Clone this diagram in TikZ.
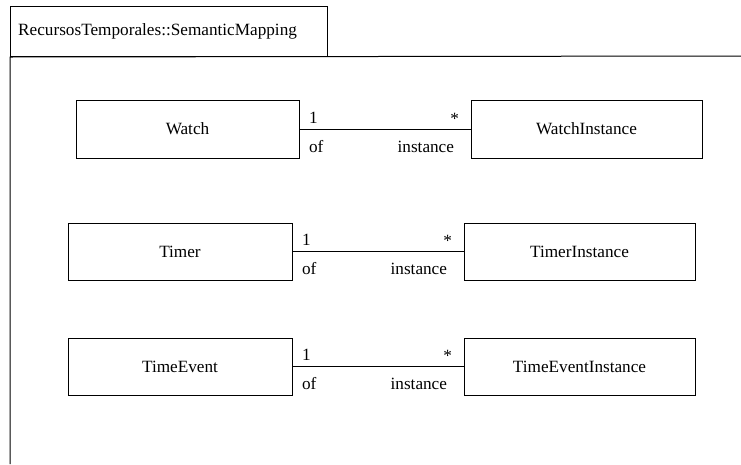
\documentclass[tikz,border=0pt]{standalone}
\usepackage{fontspec}
\setmainfont{Liberation Serif}
\begin{document}
\begin{tikzpicture}[x=1pt,y=-1pt,
  cls/.style={draw,line width=1pt,rectangle,inner sep=0pt,font=\fontsize{17.2}{20}\selectfont},
  assoc/.style={line width=1pt},
  lbl/.style={font=\fontsize{17.2}{20}\selectfont,inner sep=0pt}]
\useasboundingbox (0,0) rectangle (741,464);
\node[draw,line width=1pt,minimum width=317pt,minimum height=50pt,anchor=north west,inner sep=0pt] (tab) at (10,6) {};
\node[lbl,anchor=west] (title) at (18,31) {RecursosTemporales::SemanticMapping};
\coordinate (fr) at (741,56);
\coordinate (fb) at (10,464);
\draw[line width=1pt] (fr) -- (tab.south west) -- (fb);

\node[cls,minimum width=223pt,minimum height=58pt] (watch) at (187.5,129) {Watch};
\node[cls,minimum width=231pt,minimum height=58pt] (watchi) at (586.5,129) {WatchInstance};
\node[cls,minimum width=224pt,minimum height=57pt] (timer) at (180,251.5) {Timer};
\node[cls,minimum width=231pt,minimum height=57pt] (timeri) at (579.5,251.5) {TimerInstance};
\node[cls,minimum width=224pt,minimum height=57pt] (tev) at (180,366.5) {TimeEvent};
\node[cls,minimum width=231pt,minimum height=57pt] (tevi) at (579.5,366.5) {TimeEventInstance};

\foreach \a/\b in {watch/watchi,timer/timeri,tev/tevi}{
  \draw[assoc] (\a.east) -- (\b.west)
    node[lbl,pos=0,anchor=base west,xshift=9pt,yshift=6pt] {1}
    node[lbl,pos=0,anchor=base west,xshift=9pt,yshift=-23pt] {of}
    node[lbl,pos=1,anchor=base east,xshift=-11pt,yshift=5pt] {*}
    node[lbl,pos=1,anchor=base east,xshift=-16pt,yshift=-23pt] {instance};
}
\end{tikzpicture}
\end{document}
